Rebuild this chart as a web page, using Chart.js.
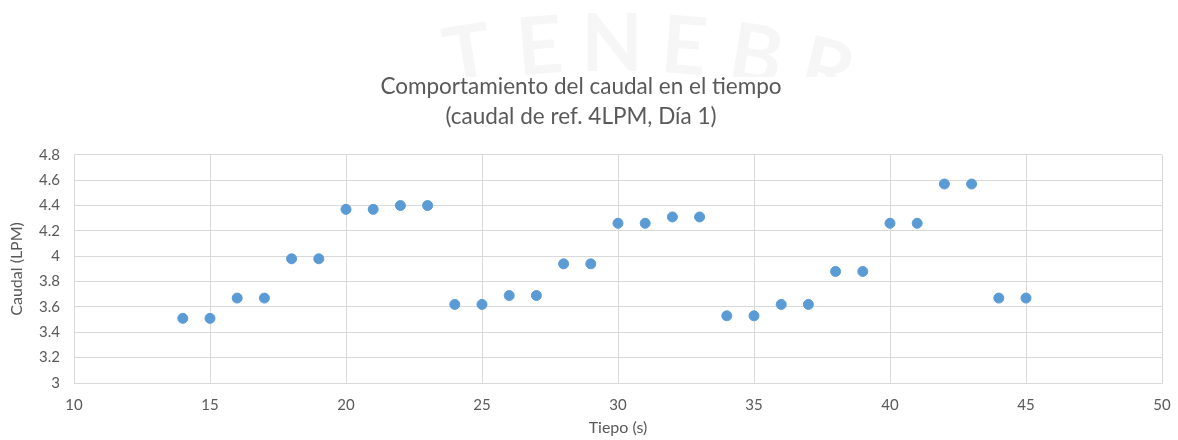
<!DOCTYPE html>
<html>
<head>
<meta charset="utf-8">
<script src="https://cdn.jsdelivr.net/npm/chart.js@4.4.1/dist/chart.umd.min.js"></script>
<style>
  html, body { margin: 0; padding: 0; background: #fff; }
  #wrap { width: 1178px; height: 440px; }
</style>
</head>
<body>
<div id="wrap"><canvas id="caudal" width="1178" height="440"></canvas></div>
<script>
// tiempo (s) y caudal medido (LPM)
const tiempo = [14, 15, 16, 17, 18, 19, 20, 21, 22, 23, 24, 25, 26, 27, 28, 29,
  30, 31, 32, 33, 34, 35, 36, 37, 38, 39, 40, 41, 42, 43, 44, 45];
const caudal = [3.51, 3.51, 3.67, 3.67, 3.98, 3.98, 4.37, 4.37, 4.40, 4.40,
  3.62, 3.62, 3.69, 3.69, 3.94, 3.94, 4.26, 4.26, 4.31, 4.31,
  3.53, 3.53, 3.62, 3.62, 3.88, 3.88, 4.26, 4.26, 4.57, 4.57, 3.67, 3.67];

const x_range = [10, 50];
const y_range = [3, 4.8];

const titulo = ["Comportamiento del caudal en el tiempo", "(caudal de ref. 4LPM, Día 1)"];

const gris = "#595959";
const linea = "#d9d9d9";
const fuente = "Lato, 'Open Sans', sans-serif";

const puntos = [];
for (let i = 0; i < tiempo.length; i++) {
  puntos.push({ x: tiempo[i], y: caudal[i] });
}

// marca de agua tenue detras del titulo
const marca = {
  id: "marca",
  beforeDraw(chart) {
    const ctx = chart.ctx;
    const letras = "TENEBR";
    const cx = 612, cy = 950, r = 905;
    ctx.save();
    ctx.fillStyle = "rgba(0,0,0,0.035)";
    ctx.font = "bold 80px Lato, sans-serif";
    ctx.textAlign = "center";
    ctx.textBaseline = "middle";
    for (let i = 0; i < letras.length; i++) {
      const a = -Math.PI / 2 + (i - 2) * 0.08;
      ctx.save();
      ctx.translate(cx + r * Math.cos(a), cy + r * Math.sin(a));
      ctx.rotate(a + Math.PI / 2);
      ctx.fillText(letras[i], 0, 0);
      ctx.restore();
    }
    ctx.restore();
    // fondo blanco del titulo
    ctx.save();
    ctx.fillStyle = "#fff";
    ctx.fillRect(300, 77, 580, 60);
    ctx.restore();
  },
};

new Chart(document.getElementById("caudal"), {
  type: "scatter",
  data: {
    datasets: [
      {
        label: "Caudal",
        data: puntos,
        backgroundColor: "#5b9bd5",
        borderColor: "#5b9bd5",
        pointRadius: 5,
        pointHoverRadius: 5,
      },
    ],
  },
  options: {
    responsive: false,
    animation: false,
    layout: { padding: { left: 0, right: 16, top: 0, bottom: 0 } },
    plugins: {
      legend: { display: false },
      tooltip: { enabled: false },
      title: {
        display: true,
        text: titulo,
        color: gris,
        font: { family: fuente, size: 22.5, weight: "normal", lineHeight: 1.33 },
        padding: { top: 72, bottom: 23 },
      },
    },
    scales: {
      x: {
        type: "linear",
        min: x_range[0],
        max: x_range[1],
        afterFit(scale) {
          scale.height = 57;
          scale.paddingRight = 0;
          scale.paddingLeft = 0;
        },
        ticks: { stepSize: 5, color: gris, padding: 13, font: { family: fuente, size: 15 } },
        grid: { color: linea, drawTicks: false },
        border: { color: linea },
        title: {
          display: true,
          text: "Tiepo (s)",
          color: gris,
          font: { family: fuente, size: 16 },
          padding: { top: 0, bottom: 3 },
        },
      },
      y: {
        min: y_range[0],
        max: y_range[1],
        afterFit(scale) { scale.width = 74; },
        ticks: {
          stepSize: 0.2,
          color: gris,
          padding: 14,
          font: { family: fuente, size: 15 },
          callback: (v) => Math.round(v * 10) / 10,
        },
        grid: { color: linea, drawTicks: false },
        border: { color: linea },
        title: {
          display: true,
          text: "Caudal (LPM)",
          color: gris,
          font: { family: fuente, size: 16 },
          padding: { top: 7, bottom: 0 },
        },
      },
    },
  },
  plugins: [marca],
});
</script>
</body>
</html>
